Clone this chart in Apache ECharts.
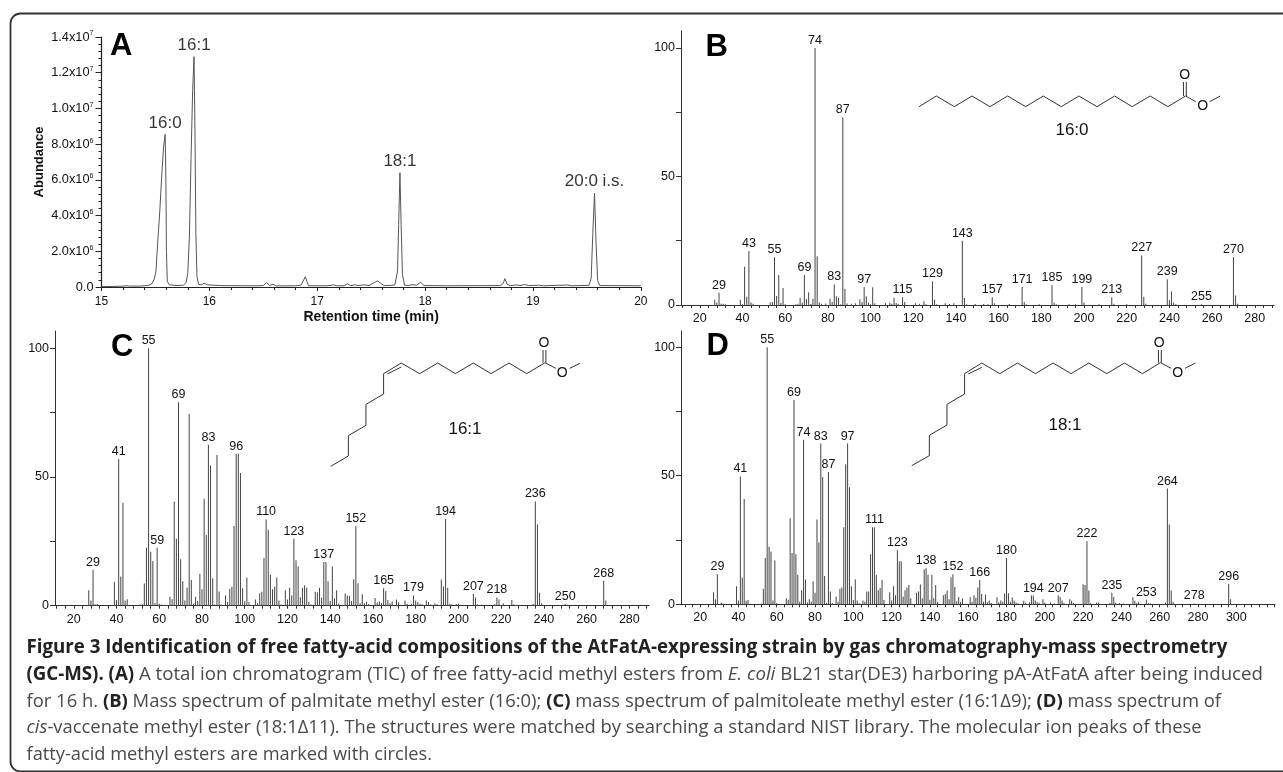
<!DOCTYPE html>
<html><head><meta charset="utf-8">
<style>html,body{margin:0;padding:0;background:#fff}#c{width:1283px;height:772px}</style>
<script src="https://cdn.jsdelivr.net/npm/echarts@6/dist/echarts.min.js"></script>
</head><body><div id="c"></div>
<script>
// Panel A: total ion chromatogram [retention time (min), abundance (x10^6)]
const ticPoints=[[15,.02],[15.1,.03],[15.2,.05],[15.23,.07],[15.26,.05],[15.35,.05],[15.4,.07],[15.44,.1],[15.47,.2],[15.49,.45],[15.505,.9],[15.52,2.4],[15.54,4.2],[15.56,6.4],[15.575,7.8],[15.59,8.55],[15.597,6],[15.602,2],[15.61,.3],[15.63,.12],[15.7,.08],[15.76,.1],[15.785,.25],[15.8,.8],[15.815,2.8],[15.83,7.2],[15.845,11],[15.858,12.9],[15.867,8.5],[15.875,3],[15.885,.6],[15.9,.15],[15.93,.12],[15.95,.22],[15.98,.12],[16.1,.08],[16.3,.07],[16.45,.07],[16.5,.08],[16.53,.25],[16.56,.08],[16.59,.16],[16.62,.06],[16.8,.07],[16.85,.1],[16.875,.4],[16.89,.58],[16.905,.3],[16.92,.07],[17.1,.07],[17.15,.12],[17.18,.07],[17.25,.07],[17.28,.18],[17.31,.08],[17.35,.12],[17.38,.08],[17.43,.12],[17.48,.08],[17.53,.25],[17.56,.34],[17.59,.2],[17.62,.08],[17.68,.09],[17.72,.12],[17.745,.9],[17.755,3.5],[17.767,6.4],[17.778,3.5],[17.79,.7],[17.81,.1],[17.85,.08],[17.87,.13],[17.92,.1],[17.96,.26],[17.99,.08],[18.2,.07],[18.7,.08],[18.725,.2],[18.74,.47],[18.76,.15],[18.79,.07],[18.85,.12],[18.88,.08],[18.92,.14],[18.96,.08],[19.05,.1],[19.1,.07],[19.32,.11],[19.36,.07],[19.52,.09],[19.54,.5],[19.555,3],[19.571,5.25],[19.585,2.5],[19.6,.35],[19.62,.08],[20,.07]];
const ticPeaks=[[15.59,8.55,'16:0'],[15.858,12.9,'16:1'],[17.767,6.4,'18:1'],[19.571,5.25,'20:0 i.s.']];
const ticYLabels={0:'0.0',2:'2.0x10|6',4:'4.0x10|6',6:'6.0x10|6',8:'8.0x10|6',10:'1.0x10|7',12:'1.2x10|7',14:'1.4x10|7'};

// Mass spectra [m/z, relative intensity]
const spectrumB=[[27,2],[28,1],[29,4.8],[30,.5],[31,.5],[32,.3],[39,2],[40,.3],[41,14.9],[42,3.2],[43,21],[44,1],[45,.5],[53,1],[54,1.2],[55,18.6],[56,3.5],[57,11.7],[58,.8],[59,6.6],[60,.3],[65,.3],[66,.5],[67,2.7],[68,1],[69,11.7],[70,2.2],[71,5],[72,.4],[73,2.4],[74,100],[75,19],[76,1],[77,.5],[79,.6],[81,2.4],[82,1.2],[83,8],[84,3.4],[85,2.8],[86,.3],[87,73],[88,6.3],[89,.6],[91,.5],[93,.7],[95,2.2],[96,1.2],[97,7],[98,3.4],[99,.9],[100,.3],[101,6.9],[102,.7],[107,.7],[109,.9],[110,.5],[111,2.8],[112,.8],[113,.5],[115,3],[116,1.2],[121,.7],[123,.5],[125,1.5],[126,.3],[129,9.2],[130,2],[131,.3],[135,.7],[137,.4],[139,.7],[143,25],[144,2.7],[145,.3],[149,.4],[153,.4],[155,.3],[157,3],[158,.7],[165,.4],[171,7],[172,1.2],[173,.3],[179,.3],[185,7.7],[186,1],[187,.3],[193,.3],[196,.3],[199,7],[200,1],[207,.3],[213,3],[214,.5],[220,.3],[227,19.3],[228,3.2],[229,.5],[239,10],[240,1.8],[241,5.3],[242,1],[243,.3],[255,.3],[270,18.7],[271,3.7],[272,.5]];
const labelsB=[29,43,55,69,74,83,87,97,115,129,143,157,171,185,199,213,227,239,255,270];
const spectrumC=[[27,6],[28,2],[29,14],[30,.6],[31,.8],[32,.3],[39,9.3],[40,2.2],[41,57],[42,11.3],[43,40],[44,2],[45,2.5],[51,.5],[52,.6],[53,8.6],[54,22.5],[55,100],[56,21],[57,17.4],[58,1],[59,22.5],[60,.8],[61,.5],[65,3.5],[66,2.5],[67,40.5],[68,26],[69,79],[70,18],[71,9.5],[72,2],[73,7],[74,74.5],[75,10],[76,.8],[77,3.5],[78,1.8],[79,12.4],[80,6.4],[81,41.5],[82,27.5],[83,62.5],[84,54.5],[85,10.7],[86,.5],[87,58.5],[88,5.5],[89,.5],[91,4],[92,1.4],[93,6.6],[94,7.4],[95,31],[96,59],[97,59],[98,51.5],[99,6.8],[100,1.7],[101,11],[102,1.3],[105,2.4],[106,1],[107,4.8],[108,5.4],[109,18.5],[110,33.5],[111,29.5],[112,12],[113,6.4],[114,7.4],[115,11],[116,2],[117,.5],[119,6],[120,2.4],[121,7],[122,4],[123,26],[124,17.7],[125,15.3],[126,3.3],[127,7],[128,7.8],[129,7],[130,1.5],[131,.5],[133,5.4],[134,5.2],[135,7],[136,3.2],[137,17],[138,17],[139,9.5],[140,1.8],[141,15.2],[142,2.8],[143,6],[144,.9],[147,4.7],[148,4],[149,3.8],[150,1.8],[151,10.3],[152,31],[153,8.7],[154,1],[155,4.4],[156,1],[157,1.5],[158,.7],[161,3],[162,1.2],[163,1.6],[164,1],[165,6.8],[166,5.7],[167,2.2],[168,1],[169,1.6],[171,2.4],[172,1.3],[175,2],[176,.8],[178,.8],[179,4],[180,2],[181,1.3],[182,.8],[183,.6],[185,2],[186,1.4],[187,.5],[189,1],[190,.6],[192,10.2],[193,7.5],[194,33.7],[195,7],[196,.8],[197,.6],[199,.7],[200,.8],[207,4.5],[208,3.2],[209,.6],[211,.5],[213,.4],[217,.6],[218,3.2],[219,2.4],[221,1],[222,.3],[225,2.2],[226,.6],[227,.3],[235,.8],[236,40.5],[237,31.5],[238,5],[239,1],[249,.4],[250,.7],[251,.4],[268,9.7],[269,2]];
const labelsC=[29,41,55,59,69,83,96,110,123,137,152,165,179,194,207,218,236,250,268];
const spectrumD=[[27,4.7],[28,2],[29,11.7],[31,.7],[32,.3],[39,7],[40,1.5],[41,49.7],[42,10.3],[43,41],[44,1.4],[45,1.7],[52,.3],[53,6],[54,18],[55,100],[56,22.5],[57,20.5],[58,1.5],[59,17],[60,.5],[65,2.4],[66,1.8],[67,33.5],[68,20],[69,79.5],[70,19.5],[71,11.5],[72,1],[73,5.5],[74,64],[75,9.6],[76,.8],[77,2],[78,1],[79,9],[80,4.5],[81,33],[82,24],[83,62.5],[84,49.5],[85,11],[86,.5],[87,51.5],[88,5],[89,.5],[91,3],[92,1],[93,6],[94,6.5],[95,30],[96,54.5],[97,62.5],[98,45.5],[99,7],[100,1.7],[101,9.7],[102,1.5],[103,.5],[105,1.5],[106,1],[107,5],[108,5],[109,19.5],[110,30],[111,30],[112,11.5],[113,5.5],[114,6.3],[115,9.5],[116,1.7],[119,4.7],[120,1.5],[121,7],[122,3.5],[123,21],[124,16.7],[125,16.7],[126,3],[127,5.5],[128,6.5],[129,7.5],[130,2.4],[133,4.5],[134,5],[135,7.7],[136,2.4],[137,13.5],[138,14],[139,11.5],[140,1.8],[141,11.5],[142,2.4],[143,7.5],[144,1],[147,3.5],[148,4],[149,5.4],[150,2],[151,10.5],[152,11.7],[153,6.7],[154,1.2],[155,2.8],[156,1],[157,2.3],[161,2.7],[162,1],[163,3.5],[164,2.5],[165,6.5],[166,9.5],[167,4],[168,1],[169,3.8],[170,.8],[171,1.5],[172,.5],[175,2.7],[176,.8],[177,1.5],[178,1],[179,4.2],[180,18],[181,4.3],[182,1],[183,2.6],[184,1.5],[185,.7],[186,.4],[189,1.4],[190,.6],[192,.8],[193,3.4],[194,3.4],[195,1.5],[196,.8],[197,.6],[199,2],[200,.7],[203,.8],[205,.4],[207,3.4],[208,2.8],[209,1.5],[210,.6],[213,2],[214,1.4],[215,.5],[220,7.8],[221,7.5],[222,24.5],[223,5.4],[224,.4],[227,.7],[228,.7],[234,.5],[235,4.5],[236,2.8],[237,.6],[239,.5],[241,.3],[246,2.7],[247,1.4],[248,.4],[249,1],[253,1.8],[254,.5],[255,.3],[263,.7],[264,45],[265,31],[266,5.4],[267,1],[278,.3],[296,8],[297,2]];
const labelsD=[29,41,55,69,74,83,87,97,111,123,138,152,166,180,194,207,222,235,253,264,278,296];

const xTicksBC=[12,16,20,24,28,32,36,40,44,48,52,56,60,64,68,72,76,80,84,88,92,96,100,104,108,112,116,120,124,128,132,136,140,144,148,152,156,160,164,168,172,176,180,184,188,192,196,200,204,208,212,216,220,224,228,232,236,240,244,248,252,256,260,264,268,272,276,280,284,288];
const xLabelsBC=[20,40,60,80,100,120,140,160,180,200,220,240,260,280];
const xTicksD=[...xTicksBC,292,296,300,304,308,312,316,320];
const xLabelsD=[20,40,60,80,100,120,140,160,180,200,220,240,260,280,300];
const yTicksMS=[0,25,50,75,100];
const yLabelsMS=[0,50,100];

const captionLines=[
 '{b|Figure 3 Identification of free fatty-acid compositions of the AtFatA-expressing strain by gas chromatography-mass spectrometry}',
 '{b|(GC-MS). (A)} A total ion chromatogram (TIC) of free fatty-acid methyl esters from {i|E. coli} BL21 star(DE3) harboring pA-AtFatA after being induced',
 'for 16 h. {b|(B)} Mass spectrum of palmitate methyl ester (16:0); {b|(C)} mass spectrum of palmitoleate methyl ester (16:1Δ9); {b|(D)} mass spectrum of',
 '{i|cis}-vaccenate methyl ester (18:1Δ11). The structures were matched by searching a standard NIST library. The molecular ion peaks of these',
 'fatty-acid methyl esters are marked with circles.'];

const SANS='"Liberation Sans",sans-serif';
const CAP='"Open Sans",sans-serif';

function msPanel(i,data,labels,xTicks,xLabels,box,xr,yMax){
  const grid={left:box[0],top:box[1],width:box[2],height:box[3]};
  const lineStyle={color:'#333',width:1};
  const xAxis={gridIndex:i,type:'value',min:xr[0],max:xr[1],splitLine:{show:false},
    axisLine:{onZero:false,lineStyle},axisTick:{length:3,lineStyle,customValues:xTicks},
    axisLabel:{customValues:xLabels,color:'#111',fontFamily:SANS,fontSize:12.5,margin:7,hideOverlap:false}};
  const yAxis={gridIndex:i,type:'value',min:0,max:yMax,splitLine:{show:false},
    axisLine:{onZero:false,lineStyle},axisTick:{length:5,lineStyle,customValues:yTicksMS},
    axisLabel:{customValues:yLabelsMS,color:'#111',fontFamily:SANS,fontSize:12.5,margin:6,hideOverlap:false}};
  const series={type:'bar',xAxisIndex:i,yAxisIndex:i,barWidth:1,silent:true,itemStyle:{color:'#444'},animation:false,
    data:data.map(p=>labels.includes(p[0])?{value:p,label:{show:true,position:'top',distance:1,formatter:String(p[0]),color:'#111',fontFamily:SANS,fontSize:12.5}}:{value:p})};
  return {grid,xAxis,yAxis,series};
}

const pA={
 grid:{left:101.5,top:37,width:539.3,height:250},
 xAxis:{gridIndex:0,type:'value',min:15,max:20,interval:1,splitLine:{show:false},
   name:'Retention time (min)',nameLocation:'middle',nameGap:23,nameTextStyle:{fontFamily:SANS,fontWeight:'bold',fontSize:14,color:'#111'},
   axisLine:{onZero:false,lineStyle:{color:'#222',width:1.2}},axisTick:{length:4,lineStyle:{color:'#222'}},
   minorTick:{show:true,splitNumber:5,length:3,lineStyle:{color:'#222'}},
   axisLabel:{color:'#111',fontFamily:SANS,fontSize:12,margin:9}},
 yAxis:{gridIndex:0,type:'value',min:0,max:14,interval:2,splitLine:{show:false},
   name:'Abundance',nameLocation:'middle',nameGap:56,nameTextStyle:{fontFamily:SANS,fontWeight:'bold',fontSize:13,color:'#111'},
   axisLine:{onZero:false,lineStyle:{color:'#222',width:1.2}},axisTick:{length:6,lineStyle:{color:'#222'}},
   minorTick:{show:true,splitNumber:5,length:3,lineStyle:{color:'#222'}},
   axisLabel:{margin:8,fontFamily:SANS,fontSize:12.8,color:'#111',
     formatter:v=>{const s=ticYLabels[v];if(!s.includes('|'))return '{a|'+s+'}';const [m,e]=s.split('|');return '{a|'+m+'}{s|'+e+'}';},
     rich:{a:{fontFamily:SANS,fontSize:12.8,color:'#111',lineHeight:14},s:{fontFamily:SANS,fontSize:7,color:'#111',verticalAlign:'top',lineHeight:9}}}},
};
const pB=msPanel(1,spectrumB,labelsB,xTicksBC,xLabelsBC,[681,31,593,274],[11.2,289],106.6);
const pC=msPanel(2,spectrumC,labelsC,xTicksBC,xLabelsBC,[55,331,594,274.7],[11.2,289.2],106.7);
const pD=msPanel(3,spectrumD,labelsD,xTicksD,xLabelsD,[681,331,594,273.3],[10,320.2],106.3);

// ---- decoration: structural formulae, panel letters, frame, caption ----
const g=[];
const SX=2.44,SY=3;
function poly(pts,ox,oy){g.push({type:'polyline',silent:true,shape:{points:pts.map(p=>[ox+p[0]/SX,oy+p[1]/SY])},style:{stroke:'#333',lineWidth:1,fill:null}});}
function txt(t,x,y,size,font,weight,color,align,vAlign){g.push({type:'text',silent:true,x,y,style:{text:t,fontSize:size,fontFamily:font,fontWeight:weight||'normal',fill:color||'#111',align:align||'center',verticalAlign:vAlign||'middle'}});}
// 16:0
poly([[681,320],[723,288],[767,320],[810,288],[854,320],[897,288],[941,320],[984,288],[1028,320],[1071,288],[1115,320],[1158,288],[1201,320],[1245,288],[1288,320],[1331,288],[1356,305]],640,0);
poly([[1390,305],[1416,288]],640,0);
poly([[1326,288],[1326,246]],640,0);poly([[1333,288],[1333,246]],640,0);
txt('O',640+1329/SX,226/SY,14,SANS);txt('O',640+1373/SX,318/SY,14,SANS);
// 16:1
poly([[1330,98],[1285,131],[1242,99],[1198,131],[1155,99],[1111,131],[1068,99],[1024,131],[979,99],[936,131],[936,192],[893,223],[893,286],[850,317],[850,378],[807,409]],0,330);
poly([[945,132],[979,111]],0,330);poly([[1330,98],[1356,115]],0,330);poly([[1390,115],[1415,100]],0,330);
poly([[1325,98],[1325,60]],0,330);poly([[1332,98],[1332,60]],0,330);
txt('O',1327/SX,330+39/SY,14,SANS);txt('O',1372/SX,330+130/SY,14,SANS);
// 18:1
poly([[1270,98],[1226,131],[1182,99],[1139,131],[1095,99],[1052,131],[1008,99],[965,131],[921,99],[878,131],[834,99],[792,131],[792,192],[749,223],[749,285],[706,316],[706,377],[663,407]],640,330);
poly([[801,132],[834,112]],640,330);poly([[1270,98],[1296,115]],640,330);poly([[1330,115],[1355,99]],640,330);
poly([[1265,98],[1265,60]],640,330);poly([[1272,98],[1272,60]],640,330);
txt('O',640+1267/SX,330+38/SY,14,SANS);txt('O',640+1312/SX,330+128/SY,14,SANS);
txt('16:0',1072,130.5,17,SANS);txt('16:1',465,429,17,SANS);txt('18:1',1065,425,17,SANS);
txt('A',110,62,31,SANS,'bold','#000','left','bottom');
txt('B',705.6,63,31,SANS,'bold','#000','left','bottom');
txt('C',111,363,31,SANS,'bold','#000','left','bottom');
txt('D',706.4,362,31,SANS,'bold','#000','left','bottom');
g.push({type:'rect',silent:true,shape:{x:10.5,y:13.5,width:1400,height:758,r:10},style:{stroke:'#333',lineWidth:1.8,fill:null}});
const capY=[648,675,702,728,755];
const capSize=[18.7,18.66,18.46,18.4,18.26];
captionLines.forEach((t,i)=>{const fs=capSize[i];g.push({type:'text',silent:true,x:26.5,y:capY[i],style:{text:t,fontSize:fs,fontFamily:CAP,fill:'#4a4a4a',align:'left',verticalAlign:'middle',
  rich:{b:{fontWeight:'bold',fill:'#222',fontSize:fs,fontFamily:CAP},i:{fontStyle:'italic',fill:'#4a4a4a',fontSize:fs,fontFamily:CAP}}}});});

const option={animation:false,backgroundColor:'#fff',
 grid:[pA.grid,pB.grid,pC.grid,pD.grid],
 xAxis:[pA.xAxis,pB.xAxis,pC.xAxis,pD.xAxis],
 yAxis:[pA.yAxis,pB.yAxis,pC.yAxis,pD.yAxis],
 graphic:{elements:g},
 series:[
  {type:'line',xAxisIndex:0,yAxisIndex:0,data:ticPoints,showSymbol:false,silent:true,lineStyle:{color:'#555',width:1}},
  {type:'scatter',xAxisIndex:0,yAxisIndex:0,symbolSize:0,silent:true,itemStyle:{color:'#000'},label:{show:true,color:'#000'},data:ticPeaks.map(p=>({value:[p[0],p[1]],label:{show:true,position:'top',distance:3,formatter:p[2],fontFamily:SANS,fontSize:17,color:'#000'}}))},
  pB.series,pC.series,pD.series]};
const chart=echarts.init(document.getElementById('c'),null,{renderer:'canvas',width:1283,height:772});
chart.setOption(option);
</script></body></html>
